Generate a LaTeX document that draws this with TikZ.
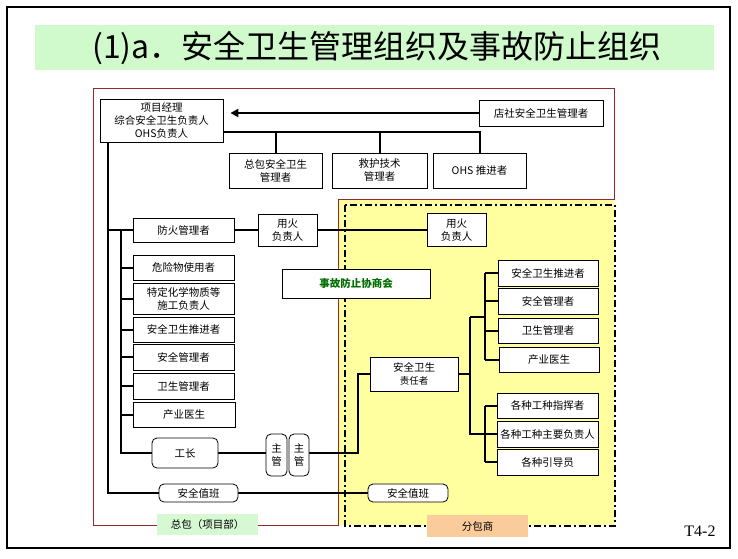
\documentclass[tikz,border=0pt]{standalone}
\usepackage{fontspec}
\setmainfont{Noto Sans CJK SC}
\newfontfamily\serifface{Liberation Serif}
\usetikzlibrary{arrows.meta}
\pgfdeclarelayer{regions}
\pgfdeclarelayer{links}
\pgfsetlayers{regions,links,main}
\definecolor{titlegreen}{RGB}{208,250,204}
\definecolor{labgreen}{RGB}{214,248,210}
\definecolor{suborange}{RGB}{250,204,156}
\definecolor{subyellow}{RGB}{255,255,160}
\definecolor{framered}{RGB}{150,40,40}
\definecolor{councilgreen}{RGB}{0,110,0}
\newcommand\boxfont{\fontsize{10.5}{13}\selectfont}
\begin{document}
\begin{tikzpicture}[x=1pt,y=-1pt,
  box/.style={draw, fill=white, line width=0.8pt, inner sep=0pt, align=center, font=\boxfont},
  rbox/.style={box, rounded corners=5pt},
  conn/.style={line width=2pt},
  bigarrow/.style={line width=2.8pt, -{Triangle[length=8pt,width=8pt]}},
  redline/.style={draw=framered, line width=0.8pt},
  dashframe/.style={line width=2.4pt, dash pattern=on 7pt off 3pt on 2pt off 3pt},
  lab/.style={inner sep=0pt, font=\boxfont}]
\useasboundingbox (0,0) rectangle (738,558);
\begin{pgfonlayer}{regions}
\fill[white] (0,0) rectangle (738,558);
% slide frame
\draw[line width=1.3pt] (7,7) rectangle (730,548);
% title band
\fill[titlegreen] (35,25) rectangle (714,70);
% regions
\fill[subyellow] (338,199) rectangle (614,525);
\draw[redline] (338,525) -- (93,525) -- (93,88) -- (614,88) -- (614,199) -- (338,199) -- cycle;
\draw[dashframe] (345,205) rectangle (615,526);
\end{pgfonlayer}
\node[lab, font=\fontsize{32}{34}\selectfont] (title) at (377,48) {(1)a．安全卫生管理组织及事故防止组织};
\node[lab, fill=labgreen, minimum width=101pt, minimum height=21pt] (zbl) at (207.5,524.5) {总包（项目部）};
\node[lab, fill=suborange, minimum width=101pt, minimum height=22pt] (fbl) at (477.5,526) {分包商};
\node[lab, font=\serifface\fontsize{16}{18}\selectfont] (pg) at (700,531) {T4-2};
% nodes
\node[box, minimum width=123pt, minimum height=43pt] (pm) at (161.5,120.5) {项目经理\\综合安全卫生负责人\\OHS负责人};
\node[box, minimum width=124pt, minimum height=26pt] (ds) at (541,113) {店社安全卫生管理者};
\node[box, minimum width=93pt, minimum height=35pt] (zb) at (275.5,170.5) {总包安全卫生\\管理者};
\node[box, minimum width=95pt, minimum height=35pt] (jh) at (379.5,170.5) {救护技术\\管理者};
\node[box, minimum width=93pt, minimum height=35pt] (ohs) at (479.5,170.5) {OHS 推进者};
\node[box, minimum width=101pt, minimum height=24pt] (fire) at (183.5,230) {防火管理者};
\node[box, minimum width=59pt, minimum height=32pt] (yh1) at (287.5,230) {用火\\负责人};
\node[box, minimum width=59pt, minimum height=33pt] (yh2) at (456.5,230) {用火\\负责人};
\node[box, minimum width=148pt, minimum height=29pt, font=\boxfont\bfseries, text=councilgreen] (council) at (356,283.5) {事故防止协商会};
\node[box, minimum width=101pt, minimum height=25pt] (wx) at (183.5,267.5) {危险物使用者};
\node[box, minimum width=101pt, minimum height=31pt] (th) at (183.5,298.5) {特定化学物质等\\施工负责人};
\node[box, minimum width=101pt, minimum height=25pt] (tj1) at (183.5,329.5) {安全卫生推进者};
\node[box, minimum width=101pt, minimum height=26pt] (aq1) at (183.5,357) {安全管理者};
\node[box, minimum width=101pt, minimum height=26pt] (ws1) at (183.5,386) {卫生管理者};
\node[box, minimum width=102pt, minimum height=25pt] (cy1) at (184,414.5) {产业医生};
\node[rbox, minimum width=66pt, minimum height=30pt] (fm) at (185,453) {工长};
\node[rbox, minimum width=21pt, minimum height=42pt] (zg1) at (276.5,455) {主\\管};
\node[rbox, minimum width=20pt, minimum height=42pt] (zg2) at (299,455) {主\\管};
\node[box, minimum width=88pt, minimum height=34pt] (zr) at (414,374) {安全卫生\\{\fontsize{9.5}{11}\selectfont 责任者}};
\node[box, minimum width=100pt, minimum height=26pt] (tj2) at (548,273) {安全卫生推进者};
\node[box, minimum width=100pt, minimum height=26pt] (aq2) at (548,301) {安全管理者};
\node[box, minimum width=100pt, minimum height=25pt] (ws2) at (548,330.5) {卫生管理者};
\node[box, minimum width=100pt, minimum height=25pt] (cy2) at (549,359.5) {产业医生};
\node[box, minimum width=101pt, minimum height=25pt] (zh) at (547.5,405.5) {各种工种指挥者};
\node[box, minimum width=101pt, minimum height=26pt] (zy) at (547.5,434) {各种工种主要负责人};
\node[box, minimum width=101pt, minimum height=26pt] (yd) at (547.5,462) {各种引导员};
\node[rbox, minimum width=79pt, minimum height=18pt] (dutyL) at (198.5,493) {安全值班};
\node[rbox, minimum width=80pt, minimum height=18pt] (dutyR) at (408,493) {安全值班};
% bus coordinates
\coordinate (L1) at (108,0);
\coordinate (L2) at (121,0);
\coordinate (T) at (0,132);
\coordinate (V) at (358,0);
\coordinate (R1) at (470,0);
\coordinate (R2) at (485,0);
\coordinate (J) at (0,317);
\begin{pgfonlayer}{links}
% top
\draw[bigarrow] (ds.west) -- ([xshift=7pt]pm.east |- ds.west);
\draw[conn] (pm.east |- T) -- (ohs.north |- T) -- (ohs.north);
\draw[conn] (zb.north |- T) -- (zb.north);
\draw[conn] (jh.north |- T) -- (jh.north);
% left main bus
\draw[conn] (L1 |- pm.south) -- (L1 |- dutyL.west) -- (dutyL.west);
\draw[conn] (dutyL.east) -- (dutyR.west);
\draw[conn] (L1 |- fire.west) -- (fire.west);
\draw[conn] (fire.east) -- (yh1.west);
\draw[conn] (yh1.east) -- (yh2.west);
% inner bus
\draw[conn] (L2 |- fire.west) -- (L2 |- fm.west) -- (fm.west);
\foreach \n in {wx,th,tj1,aq1,ws1,cy1} \draw[conn] (L2 |- \n.west) -- (\n.west);
% foreman chain
\draw[conn] (fm.east |- 0,453) -- (zg1.west |- 0,453);
\draw[conn] (zg2.east |- 0,453) -- (V |- 0,453) -- (V |- zr.west) -- (zr.west);
% right side
\draw[conn] (zr.east) -- (R1 |- zr.east);
\draw[conn] (R1 |- J) -- (R1 |- zy.west) -- (zy.west);
\draw[conn] (R1 |- J) -- (R2 |- J);
\draw[conn] (R2 |- tj2.west) -- (R2 |- cy2.west);
\foreach \n in {tj2,aq2,ws2,cy2} \draw[conn] (R2 |- \n.west) -- (\n.west);
\draw[conn] (R2 |- zh.west) -- (R2 |- yd.west);
\foreach \n in {zh,yd} \draw[conn] (R2 |- \n.west) -- (\n.west);
\end{pgfonlayer}
\end{tikzpicture}
\end{document}
